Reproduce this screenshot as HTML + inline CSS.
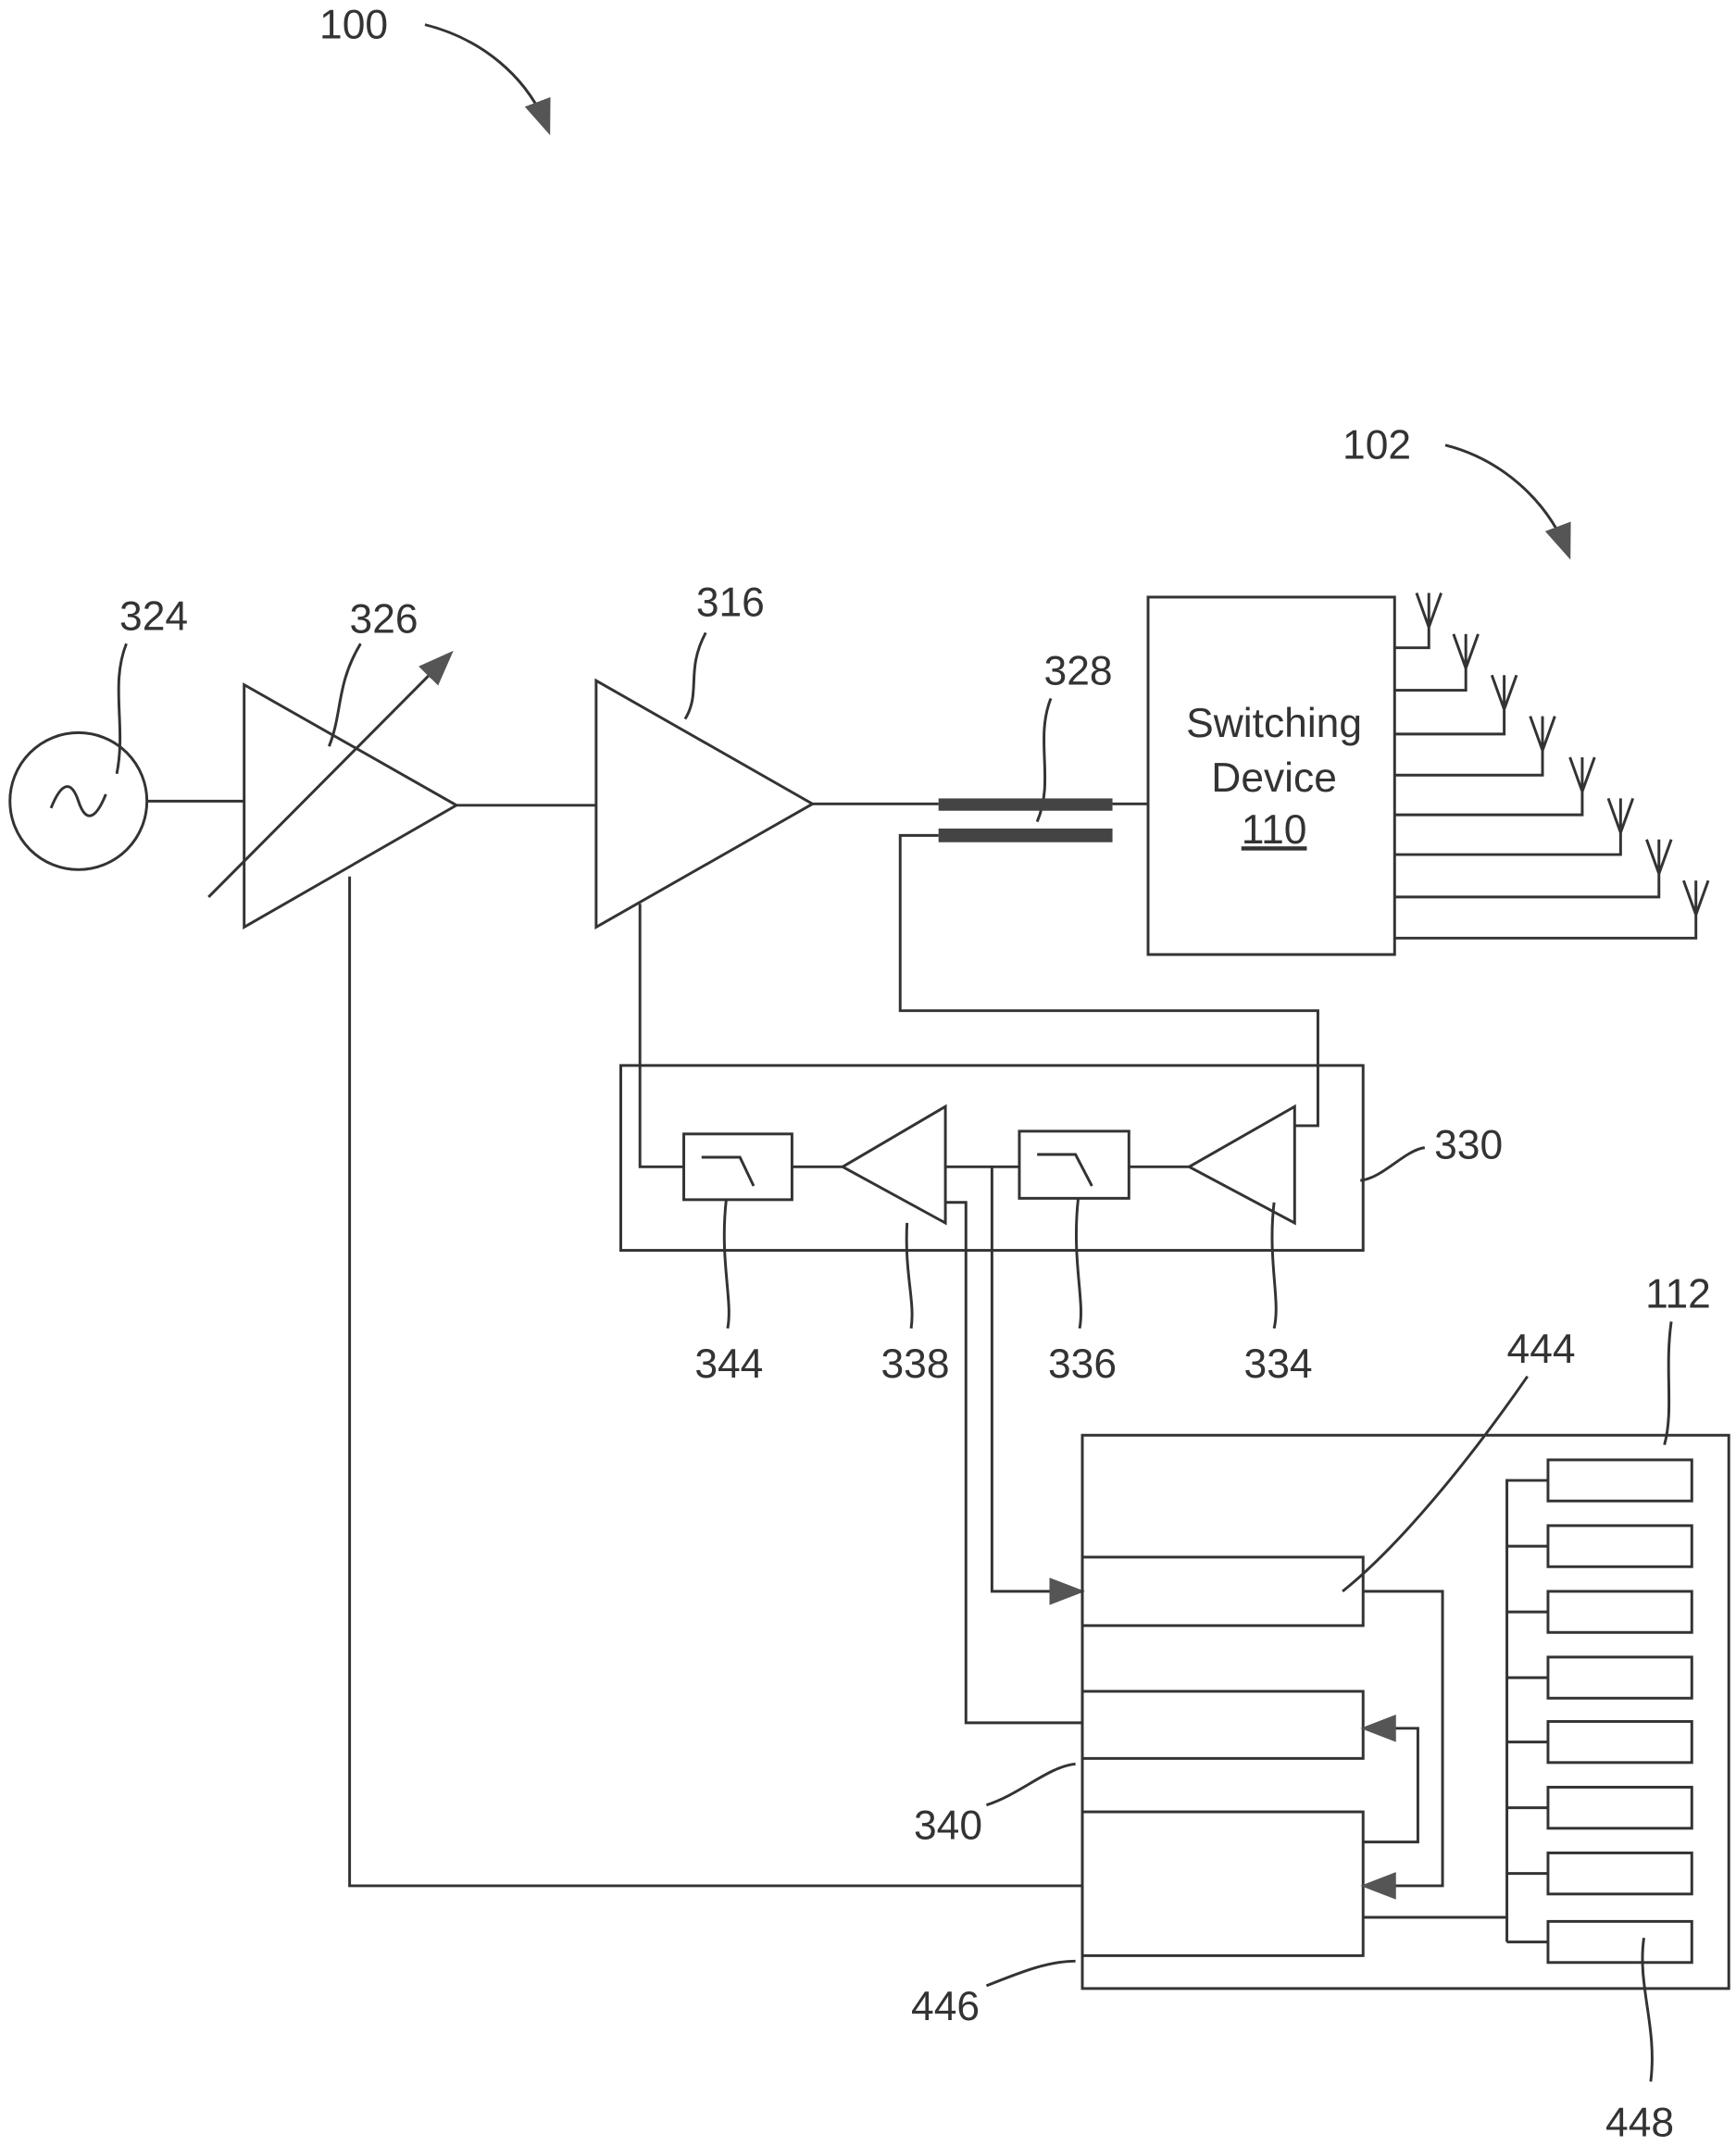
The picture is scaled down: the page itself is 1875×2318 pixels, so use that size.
<!DOCTYPE html>
<html><head><style>html,body{margin:0;padding:0;background:#fff}svg{display:block}</style></head><body>
<svg width="1875" height="2318" viewBox="0 0 1267 1567" xmlns="http://www.w3.org/2000/svg">
<defs>
<marker id="ab" markerWidth="26" markerHeight="20" refX="22" refY="10" orient="auto" markerUnits="userSpaceOnUse" viewBox="0 0 26 20"><path d="M0,0 L26,10 L0,20 z" fill="#555"/></marker></defs>
<g fill="none" stroke="#333" stroke-width="2">
<circle cx="57" cy="585" r="50"/>
<path d="M37,590 C45,570 52,570 57,585 C62,600 69,600 77,580"/>
<line x1="107" y1="585" x2="178" y2="585"/>
<polygon points="178,500 178,677 333,588"/>
<line x1="152" y1="655" x2="328" y2="478" marker-end="url(#ab)"/>
<line x1="333" y1="588" x2="435" y2="588"/>
<polygon points="435,497 435,677 593,587"/>
<line x1="593" y1="587" x2="685" y2="587"/>
<line x1="812" y1="587" x2="838" y2="587"/>
<path d="M685,610 H657 V738 H962 V822 H945"/>
<rect x="838" y="436" width="180" height="261"/>
<path d="M1018,473 H1043 V433 M1043,458 L1034,433 M1043,458 L1052,433"/>
<path d="M1018,504 H1070 V463 M1070,488 L1061,463 M1070,488 L1079,463"/>
<path d="M1018,536 H1098 V493 M1098,518 L1089,493 M1098,518 L1107,493"/>
<path d="M1018,566 H1126 V523 M1126,548 L1117,523 M1126,548 L1135,523"/>
<path d="M1018,595 H1155 V553 M1155,578 L1146,553 M1155,578 L1164,553"/>
<path d="M1018,624 H1183 V583 M1183,608 L1174,583 M1183,608 L1192,583"/>
<path d="M1018,655 H1211 V613 M1211,638 L1202,613 M1211,638 L1220,613"/>
<path d="M1018,685 H1238 V643 M1238,668 L1229,643 M1238,668 L1247,643"/>
<rect x="453" y="778" width="542" height="135"/>
<path d="M467,660 V852 H499"/>
<rect x="499" y="828" width="79" height="48"/>
<path d="M512,845 H540 L550,866"/>
<line x1="578" y1="852" x2="615" y2="852"/>
<polygon points="615,852 690,808 690,893"/>
<line x1="690" y1="852" x2="744" y2="852"/>
<path d="M690,878 H705 V1258 H790"/>
<path d="M724,852 V1162 H788" marker-end="url(#ab)"/>
<rect x="744" y="826" width="80" height="49"/>
<path d="M757,843 H785 L797,866"/>
<line x1="824" y1="852" x2="868" y2="852"/>
<polygon points="868,852 945,808 945,893"/>
<rect x="790" y="1048" width="472" height="404"/>
<rect x="790" y="1137" width="205" height="50"/>
<rect x="790" y="1235" width="205" height="49"/>
<rect x="790" y="1323" width="205" height="105"/>
<path d="M995,1162 H1053 V1377 H997" marker-end="url(#ab)"/>
<path d="M995,1345 H1035 V1262 H997" marker-end="url(#ab)"/>
<path d="M995,1400 H1100"/>
<path d="M1100,1080 V1418"/>
<path d="M255,640 V1377 H790"/>
<g>
<rect x="1130" y="1066" width="105" height="30"/><line x1="1100" y1="1081" x2="1130" y2="1081"/>
<rect x="1130" y="1114" width="105" height="30"/><line x1="1100" y1="1129" x2="1130" y2="1129"/>
<rect x="1130" y="1162" width="105" height="30"/><line x1="1100" y1="1177" x2="1130" y2="1177"/>
<rect x="1130" y="1210" width="105" height="30"/><line x1="1100" y1="1225" x2="1130" y2="1225"/>
<rect x="1130" y="1257" width="105" height="30"/><line x1="1100" y1="1272" x2="1130" y2="1272"/>
<rect x="1130" y="1305" width="105" height="30"/><line x1="1100" y1="1320" x2="1130" y2="1320"/>
<rect x="1130" y="1353" width="105" height="30"/><line x1="1100" y1="1368" x2="1130" y2="1368"/>
<rect x="1130" y="1403" width="105" height="30"/><line x1="1100" y1="1418" x2="1130" y2="1418"/>
</g>
<path d="M310,18 C350,28 385,55 400,95" marker-end="url(#ab)"/>
<path d="M1055,325 C1095,335 1130,365 1145,405" marker-end="url(#ab)"/>
<path d="M92,470 C80,500 92,530 85,565"/>
<path d="M263,470 C245,500 250,520 240,545"/>
<path d="M515,462 C500,490 512,505 500,525"/>
<path d="M767,510 C755,540 770,570 757,600"/>
<path d="M993,862 C1010,860 1025,840 1040,838"/>
<path d="M530,876 C525,920 535,950 531,970"/>
<path d="M662,893 C660,930 668,950 665,970"/>
<path d="M787,875 C782,920 792,950 788,970"/>
<path d="M930,878 C925,920 935,950 930,970"/>
<path d="M1220,965 C1215,1000 1222,1030 1215,1055"/>
<path d="M1115,1005 C1070,1070 1020,1130 980,1162"/>
<path d="M720,1318 C745,1310 765,1290 785,1288"/>
<path d="M720,1450 C745,1440 765,1432 785,1432"/>
<path d="M1200,1415 C1195,1450 1210,1480 1205,1520"/>
</g>
<g font-family="Liberation Sans, sans-serif" font-size="30" fill="#333" text-anchor="middle">
<text x="258" y="28">100</text>
<text x="1005" y="335">102</text>
<text x="112" y="460">324</text>
<text x="280" y="462">326</text>
<text x="533" y="450">316</text>
<text x="787" y="500">328</text>
<text x="930" y="538">Switching</text>
<text x="930" y="578">Device</text>
<text x="930" y="616" text-decoration="underline">110</text>
<text x="1072" y="846">330</text>
<text x="532" y="1006">344</text>
<text x="668" y="1006">338</text>
<text x="790" y="1006">336</text>
<text x="933" y="1006">334</text>
<text x="1225" y="955">112</text>
<text x="1125" y="995">444</text>
<text x="692" y="1343">340</text>
<text x="690" y="1475">446</text>
<text x="1197" y="1560">448</text>
</g>
<rect x="685" y="583" width="127" height="9" fill="#444"/>
<rect x="685" y="605" width="127" height="10" fill="#444"/>
</svg>
</body></html>
